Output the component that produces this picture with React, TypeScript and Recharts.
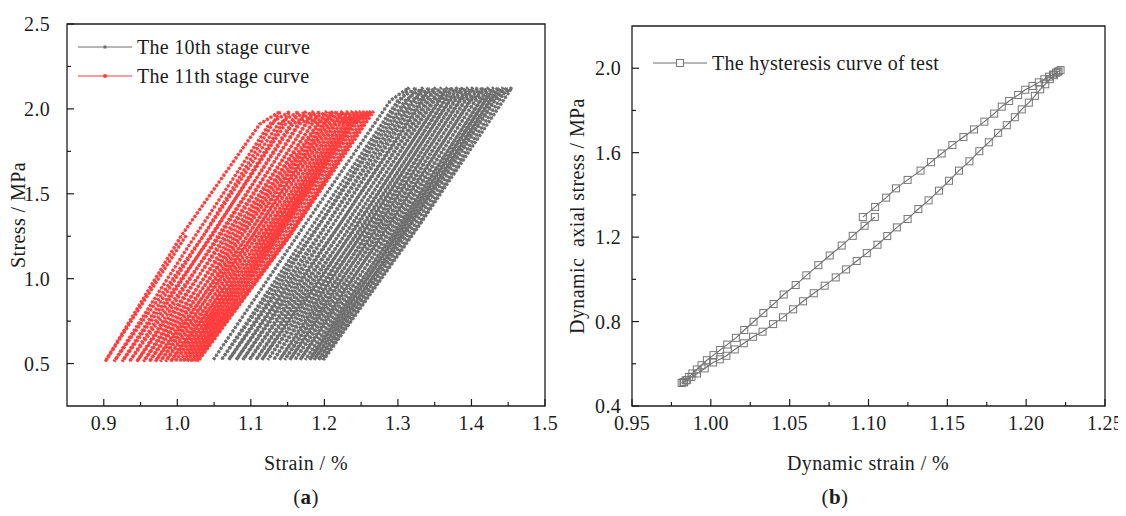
import { LineChart, Line, XAxis, YAxis, ReferenceArea } from 'recharts';

const FONT = '"Liberation Serif", "Times New Roman", serif';
const INK = '#1c1c1c';
const GREY = '#6e6e6e';
const RED = '#ff3d3d';

// (a) one entry per loading cycle, strain in %
// stress levels per stage: [valley, mid, knee, peak]
const stage10Stress = [0.522, 1.32, 2.05, 2.125];
const stage10Valley = [1.049, 1.06, 1.07, 1.08, 1.089, 1.098, 1.107, 1.115, 1.123, 1.131, 1.139, 1.146, 1.153, 1.16, 1.167, 1.174, 1.18, 1.186, 1.192, 1.197];
const stage10LoadMid = [1.174, 1.185, 1.194, 1.204, 1.212, 1.221, 1.229, 1.237, 1.244, 1.252, 1.259, 1.266, 1.273, 1.28, 1.287, 1.294, 1.301, 1.307, 1.313, 1.318];
const stage10Knee = [1.29, 1.3, 1.31, 1.319, 1.327, 1.335, 1.343, 1.35, 1.357, 1.364, 1.371, 1.378, 1.385, 1.392, 1.399, 1.406, 1.413, 1.419, 1.425, 1.431];
const stage10Peak = [1.315, 1.325, 1.334, 1.343, 1.351, 1.359, 1.367, 1.374, 1.381, 1.388, 1.395, 1.402, 1.409, 1.416, 1.423, 1.43, 1.437, 1.443, 1.449, 1.455];
const stage10UnloadMid = [1.193, 1.203, 1.212, 1.221, 1.23, 1.238, 1.246, 1.254, 1.261, 1.269, 1.276, 1.283, 1.29, 1.297, 1.304, 1.31, 1.317, 1.323, 1.328, 1.33];
const stage10End = 1.199;

const stage11Stress = [0.512, 1.25, 1.91, 1.985];
const stage11Start = [1.012, 1.255];
const stage11Valley = [0.902, 0.914, 0.925, 0.935, 0.945, 0.954, 0.962, 0.97, 0.977, 0.984, 0.991, 0.997, 1.003, 1.008, 1.013, 1.018, 1.022, 1.026];
const stage11LoadMid = [1.005, 1.024, 1.035, 1.045, 1.055, 1.064, 1.073, 1.081, 1.088, 1.095, 1.102, 1.108, 1.114, 1.119, 1.124, 1.129, 1.133, 1.137];
const stage11Knee = [1.112, 1.125, 1.137, 1.147, 1.157, 1.166, 1.175, 1.183, 1.19, 1.197, 1.204, 1.21, 1.216, 1.221, 1.226, 1.231, 1.235, 1.239];
const stage11Peak = [1.14, 1.153, 1.165, 1.175, 1.185, 1.194, 1.203, 1.211, 1.218, 1.225, 1.232, 1.238, 1.244, 1.249, 1.254, 1.259, 1.263, 1.267];
const stage11UnloadMid = [1.035, 1.047, 1.058, 1.068, 1.078, 1.086, 1.095, 1.102, 1.109, 1.116, 1.123, 1.129, 1.134, 1.139, 1.144, 1.149, 1.152, 1.153];
const stage11End = 1.028;

// (b) single hysteresis loop, in drawing order
const loopStrain = [
  1.104, 1.0975, 1.09, 1.083, 1.0754, 1.0682, 1.0606, 1.0538, 1.0462, 1.0398, 1.0333, 1.0271, 1.0212, 1.0159, 1.0104,
  1.0059, 1.0017, 0.9975, 0.9941, 0.9911, 0.9883, 0.9862, 0.9841, 0.9826, 0.9815,
  0.983, 0.9848, 0.9877, 0.9912, 0.9961, 1.0014, 1.0057, 1.0099, 1.0152, 1.0209, 1.0268, 1.0328, 1.0395, 1.0458,
  1.0522, 1.0585, 1.0653, 1.0722, 1.0792, 1.0858, 1.0925, 1.0989, 1.1057, 1.1119, 1.118, 1.1248, 1.1316, 1.1381,
  1.1447, 1.1511, 1.1574, 1.164, 1.1703, 1.1763, 1.1822, 1.1877, 1.1928, 1.1972, 1.2017, 1.2055, 1.2089, 1.2121,
  1.215, 1.2176, 1.2199, 1.2218,
  1.2205, 1.219, 1.217, 1.2145, 1.2115, 1.208, 1.204, 1.1994, 1.1949, 1.1892, 1.1845, 1.1797, 1.1735, 1.1669,
  1.1602, 1.1532, 1.1464, 1.1396, 1.133, 1.1248, 1.1174, 1.1112, 1.1042, 1.0964,
];
const loopStress = [
  1.295, 1.254, 1.206, 1.16, 1.113, 1.067, 1.019, 0.973, 0.928, 0.883, 0.84, 0.799, 0.76, 0.723, 0.691,
  0.665, 0.641, 0.617, 0.593, 0.573, 0.554, 0.538, 0.522, 0.514, 0.509,
  0.512, 0.522, 0.538, 0.554, 0.578, 0.606, 0.621, 0.638, 0.668, 0.697, 0.728, 0.752, 0.788, 0.82,
  0.858, 0.896, 0.934, 0.97, 1.009, 1.047, 1.087, 1.124, 1.164, 1.205, 1.246, 1.286, 1.333, 1.374,
  1.42, 1.467, 1.515, 1.559, 1.607, 1.649, 1.694, 1.73, 1.768, 1.805, 1.837, 1.869, 1.9, 1.924,
  1.948, 1.967, 1.983, 1.991,
  1.985, 1.978, 1.97, 1.96, 1.948, 1.933, 1.916, 1.898, 1.873, 1.845, 1.818, 1.785, 1.747, 1.71,
  1.674, 1.636, 1.596, 1.555, 1.515, 1.471, 1.431, 1.387, 1.343, 1.295,
];

const aXMajor = [0.9, 1.0, 1.1, 1.2, 1.3, 1.4, 1.5];
const aXMinor = [0.95, 1.05, 1.15, 1.25, 1.35, 1.45];
const aYMajor = [0.5, 1.0, 1.5, 2.0, 2.5];
const aYMinor = [0.75, 1.25, 1.75, 2.25];
const bXMajor = [0.95, 1.0, 1.05, 1.1, 1.15, 1.2, 1.25];
const bXMinor = [0.975, 1.025, 1.075, 1.125, 1.175, 1.225];
const bYMajor = [0.4, 0.8, 1.2, 1.6, 2.0];
const bYMinor = [0.6, 1.0, 1.4, 1.8];

type Pt = { x: number; y: number };

function buildLoops(
  valley: number[], loadMid: number[], knee: number[], peak: number[], unloadMid: number[],
  end: number, s: number[], start?: number[],
): Pt[] {
  const pts: Pt[] = [];
  if (start) pts.push({ x: start[0], y: start[1] });
  valley.forEach((v, i) => {
    pts.push({ x: v, y: s[0] });
    pts.push({ x: loadMid[i], y: s[1] });
    pts.push({ x: knee[i], y: s[2] });
    pts.push({ x: peak[i], y: s[3] });
    pts.push({ x: unloadMid[i], y: s[1] });
  });
  pts.push({ x: end, y: s[0] });
  return pts;
}

const stage10 = buildLoops(stage10Valley, stage10LoadMid, stage10Knee, stage10Peak, stage10UnloadMid, stage10End, stage10Stress);
const stage11 = buildLoops(stage11Valley, stage11LoadMid, stage11Knee, stage11Peak, stage11UnloadMid, stage11End, stage11Stress, stage11Start);
const loop = loopStrain.map((x, i) => ({ x, y: loopStress[i] }));

const isIn = (arr: number[], v: number) => arr.some((m) => Math.abs(m - v) < 1e-6);

const textStyle = { fontFamily: FONT, fontSize: 20, fill: INK, letterSpacing: 0.3 };

function xTick(major: number[], digits: number) {
  return (p: any) => {
    const v = p.payload.value;
    const big = isIn(major, v);
    return (
      <g key={`xt-${v}`}>
        <line x1={p.x} x2={p.x} y1={p.y} y2={p.y - (big ? 7 : 4)} stroke={INK} strokeWidth={1.2} />
        {big && (
          <text x={p.x} y={p.y + 24} textAnchor="middle" style={textStyle}>
            {v.toFixed(digits)}
          </text>
        )}
      </g>
    );
  };
}

function yTick(major: number[], gap: number) {
  return (p: any) => {
    const v = p.payload.value;
    const big = isIn(major, v);
    return (
      <g key={`yt-${v}`}>
        <line x1={p.x} x2={p.x + (big ? 7 : 4)} y1={p.y} y2={p.y} stroke={INK} strokeWidth={1.2} />
        {big && (
          <text x={p.x - gap} y={p.y + 7} textAnchor="end" style={textStyle}>
            {v.toFixed(1)}
          </text>
        )}
      </g>
    );
  };
}

const SquareDot = (p: any) => (
  <rect key={`d-${p.index}`} x={p.cx - 3.5} y={p.cy - 3.5} width={7} height={7} fill="none" stroke="#777" strokeWidth={1} />
);

const label = (extra: React.CSSProperties): React.CSSProperties => ({
  position: 'absolute',
  fontFamily: FONT,
  fontSize: 20,
  color: INK,
  whiteSpace: 'pre',
  letterSpacing: 0.4,
  lineHeight: 1,
  ...extra,
});

export default function App() {
  return (
    <div style={{ position: 'relative', width: 1126, height: 516, margin: -8, background: '#fff' }}>
      <div style={{ position: 'absolute', left: 0, top: 0 }}>
        <LineChart width={560} height={440} margin={{ top: 24, right: 15, bottom: 0, left: 0 }}>
          <XAxis
            type="number" dataKey="x" domain={[0.85, 1.5]} ticks={[...aXMajor, ...aXMinor]} interval={0}
            allowDataOverflow axisLine={false} tickLine={false} tickSize={0} tickMargin={0} height={34}
            tick={xTick(aXMajor, 1)}
          />
          <YAxis
            type="number" domain={[0.25, 2.5]} ticks={[...aYMajor, ...aYMinor]} interval={0}
            allowDataOverflow axisLine={false} tickLine={false} tickSize={0} tickMargin={0} width={67}
            tick={yTick(aYMajor, 17)}
          />
          <ReferenceArea x1={0.85} x2={1.5} y1={0.25} y2={2.5} fill="none" stroke={INK} strokeWidth={1.3} ifOverflow="visible" />
          <Line data={stage10} dataKey="y" type="linear" stroke={GREY} strokeWidth={0.9} dot={false} isAnimationActive={false} />
          <Line data={stage10} dataKey="y" type="linear" stroke={GREY} strokeWidth={3.4} strokeDasharray="2.6 1.6" dot={false} isAnimationActive={false} />
          <Line data={stage11} dataKey="y" type="linear" stroke={RED} strokeWidth={0.9} dot={false} isAnimationActive={false} />
          <Line data={stage11} dataKey="y" type="linear" stroke={RED} strokeWidth={3.4} strokeDasharray="2.6 1.6" dot={false} isAnimationActive={false} />
        </LineChart>
      </div>

      <div style={{ position: 'absolute', left: 560, top: 0 }}>
        <LineChart width={580} height={440} margin={{ top: 26, right: 35, bottom: 0, left: 0 }}>
          <XAxis
            type="number" dataKey="x" domain={[0.95, 1.25]} ticks={[...bXMajor, ...bXMinor]} interval={0}
            allowDataOverflow axisLine={false} tickLine={false} tickSize={0} tickMargin={0} height={34}
            tick={xTick(bXMajor, 2)}
          />
          <YAxis
            type="number" domain={[0.4, 2.2]} ticks={[...bYMajor, ...bYMinor]} interval={0}
            allowDataOverflow axisLine={false} tickLine={false} tickSize={0} tickMargin={0} width={72}
            tick={yTick(bYMajor, 11)}
          />
          <ReferenceArea x1={0.95} x2={1.25} y1={0.4} y2={2.2} fill="none" stroke={INK} strokeWidth={1.3} ifOverflow="visible" />
          <Line data={loop} dataKey="y" type="linear" stroke={GREY} strokeWidth={1.1} dot={SquareDot} isAnimationActive={false} />
        </LineChart>
      </div>

      {/* legends */}
      <svg width={1126} height={100} style={{ position: 'absolute', left: 0, top: 0, pointerEvents: 'none' }}>
        <line x1={78} x2={132} y1={47} y2={47} stroke={GREY} strokeWidth={1} />
        <rect x={103.5} y={45.5} width={3} height={3} fill={GREY} />
        <line x1={78} x2={132} y1={76} y2={76} stroke={RED} strokeWidth={1} />
        <circle cx={105} cy={76} r={2} fill={RED} />
        <text x={137} y={54} style={textStyle}>The 10th stage curve</text>
        <text x={137} y={83} style={textStyle}>The 11th stage curve</text>
        <line x1={653} x2={707} y1={63} y2={63} stroke={GREY} strokeWidth={1.1} />
        <rect x={676.5} y={59.5} width={7} height={7} fill="#fff" stroke="#777" strokeWidth={1} />
        <text x={712} y={70} style={textStyle}>The hysteresis curve of test</text>
      </svg>

      {/* axis titles */}
      <div style={label({ left: 306, top: 463, transform: 'translate(-50%, -50%)' })}>Strain / %</div>
      <div style={label({ left: 868, top: 463, transform: 'translate(-50%, -50%)' })}>Dynamic strain / %</div>
      <div style={label({ left: 18, top: 215, transform: 'translate(-50%, -50%) rotate(-90deg)' })}>Stress / MPa</div>
      <div style={label({ left: 577, top: 216, transform: 'translate(-50%, -50%) rotate(-90deg)' })}>Dynamic  axial stress / MPa</div>
      <div style={label({ left: 306, top: 497, transform: 'translate(-50%, -50%)', fontSize: 21 })}>
        (<b>a</b>)
      </div>
      <div style={label({ left: 835, top: 497, transform: 'translate(-50%, -50%)', fontSize: 21 })}>
        (<b>b</b>)
      </div>
    </div>
  );
}
